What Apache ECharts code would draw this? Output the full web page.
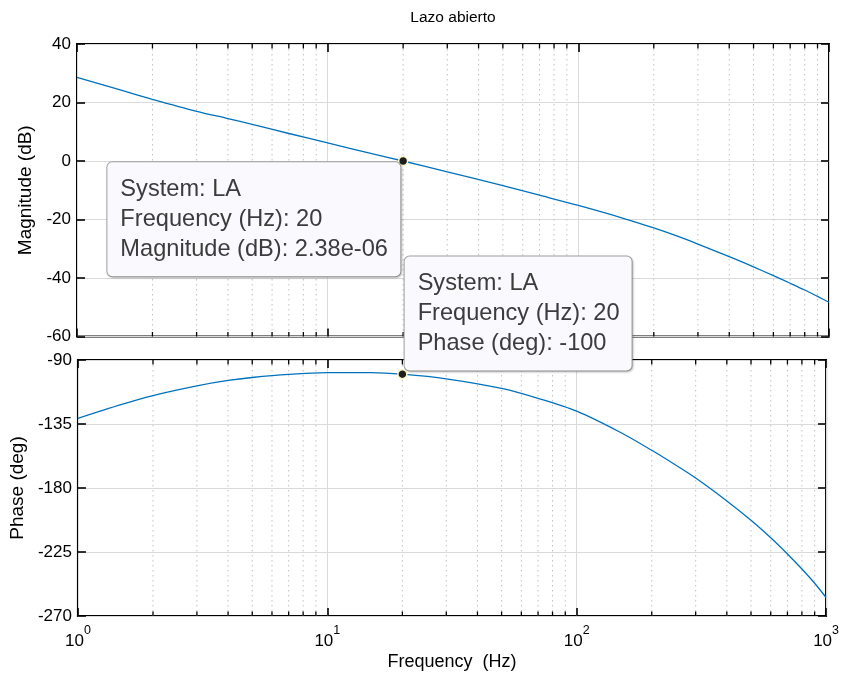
<!DOCTYPE html>
<html>
<head>
<meta charset="utf-8">
<script src="https://cdn.jsdelivr.net/npm/echarts@6/dist/echarts.min.js"></script>
<style>
  html, body { margin: 0; padding: 0; background: #fff; }
  #chart { width: 842px; height: 677px; }
</style>
</head>
<body>
<div id="chart"></div>
<script>
// Open-loop Bode response of system "LA"
const freqHz = [1, 1.5, 2, 3, 4, 5, 7, 10, 15, 20, 30, 50, 70, 100, 150, 200, 250, 300, 400, 500, 600, 700, 800, 900, 1000];
const magnitudeDb = [28.6, 24.2, 21.1, 17.0, 14.5, 12.5, 9.4, 6.2, 2.5, 0, -3.7, -8.45, -11.7, -15.2, -19.5, -22.9, -25.8, -28.4, -32.7, -36.2, -39.2, -41.8, -44.1, -46.3, -48.3];
const phaseDeg = [-131, -121.2, -115, -108.2, -104.4, -102.3, -100.1, -98.9, -98.9, -100, -103.2, -110, -117, -126, -141, -153.5, -164, -173, -189.1, -202.7, -215.0, -226.4, -237.0, -247.0, -257];

// Minor decade ticks (2..9 per decade)
const minorFreqs = [2, 3, 4, 5, 6, 7, 8, 9, 20, 30, 40, 50, 60, 70, 80, 90, 200, 300, 400, 500, 600, 700, 800, 900];

// Axis ranges
const magTicks = { min: -60, max: 40, interval: 20 };
const phaseTicks = { min: -270, max: -90, interval: 45 };

// Data tips
const tipSystem = 'LA';
const tipFreq = 20;
const tipMag = 2.38e-06;
const tipPhase = -100;

const FONT = '"Liberation Sans", Arial, Helvetica, sans-serif';
const BLUE = '#0072BD';

function fmtExp(v) {
  // exponent written with two digits, e.g. 2.38e-06
  const s = v.toExponential(2);
  return s.replace(/e([+-])(\d)$/, 'e$10$2');
}

function minorRenderer(yMin, yMax) {
  return function (params, api) {
    const f = api.value(0);
    const top = api.coord([f, yMax]);
    const bot = api.coord([f, yMin]);
    return {
      type: 'group',
      children: [
        { type: 'line', shape: { x1: top[0], y1: top[1], x2: bot[0], y2: bot[1] },
          style: { stroke: '#c2c2c2', lineWidth: 1, lineDash: [1.5, 3.5] } },
        { type: 'line', shape: { x1: top[0], y1: top[1], x2: top[0], y2: top[1] + 4.5 },
          style: { stroke: '#000', lineWidth: 1.3 } },
        { type: 'line', shape: { x1: bot[0], y1: bot[1], x2: bot[0], y2: bot[1] - 4.5 },
          style: { stroke: '#000', lineWidth: 1.3 } }
      ]
    };
  };
}

function xAxisDef(gridIndex, position, showLabels) {
  return {
    type: 'log', logBase: 10, min: 1, max: 1000, gridIndex: gridIndex, position: position,
    axisLine: { show: false, onZero: false },
    axisTick: { show: true, inside: true, length: 8, lineStyle: { color: '#000', width: 1.6 } },
    splitLine: { show: position === 'bottom', lineStyle: { color: '#dadada', width: 1 } },
    axisLabel: showLabels ? {
      show: true, margin: 8, fontFamily: FONT,
      formatter: function (v) {
        const e = Math.round(Math.log10(v));
        return '{b|10}{s|' + e + '}';
      },
      rich: {
        b: { fontSize: 17, color: '#000', fontFamily: FONT, lineHeight: 26, verticalAlign: 'bottom' },
        s: { fontSize: 12.5, color: '#000', fontFamily: FONT, lineHeight: 14, verticalAlign: 'top' }
      }
    } : { show: false },
    name: showLabels ? 'Frequency  (Hz)' : '',
    nameLocation: 'middle', nameGap: 37,
    nameTextStyle: { fontSize: 18, color: '#000', fontFamily: FONT }
  };
}

function yAxisDef(gridIndex, position, range, name, nameGap) {
  const main = position === 'left';
  return {
    type: 'value', gridIndex: gridIndex, position: position,
    min: range.min, max: range.max, interval: range.interval,
    axisLine: { show: false, onZero: false },
    axisTick: { show: true, inside: true, length: 8, lineStyle: { color: '#000', width: 1.6 } },
    splitLine: { show: main, lineStyle: { color: '#dadada', width: 1 } },
    axisLabel: main ? { show: true, margin: 6, fontSize: 17, color: '#000', fontFamily: FONT } : { show: false },
    name: main ? name : '',
    nameLocation: 'middle', nameGap: nameGap, nameRotate: 90,
    nameTextStyle: { fontSize: 19, color: '#000', fontFamily: FONT }
  };
}

const tipLabelStyle = {
  show: true,
  fontSize: 23.6, lineHeight: 30, color: '#3c3c3c', fontFamily: FONT,
  backgroundColor: '#f9f9fe', borderColor: '#a3a3a3', borderWidth: 1, borderRadius: 5,
  shadowColor: 'rgba(0,0,0,0.18)', shadowBlur: 2, shadowOffsetX: 1, shadowOffsetY: 1,
  align: 'left', overflow: 'none'
};

const chart = echarts.init(document.getElementById('chart'), null, { renderer: 'canvas' });

chart.setOption({
  backgroundColor: '#fff',
  animation: false,
  graphic: [{
    type: 'text', x: 453, y: 18,
    style: { text: 'Lazo abierto', fontSize: 15.5, fill: '#000', font: '15.5px ' + FONT,
             textAlign: 'center', textVerticalAlign: 'middle' }
  }],
  grid: [
    { left: 77, top: 44, width: 752, height: 292.5, show: true, borderColor: '#000', borderWidth: 2, backgroundColor: '#fff' },
    { left: 77, top: 360, width: 752, height: 256, show: true, borderColor: '#000', borderWidth: 2, backgroundColor: '#fff' }
  ],
  xAxis: [
    xAxisDef(0, 'bottom', false),
    xAxisDef(0, 'top', false),
    xAxisDef(1, 'bottom', true),
    xAxisDef(1, 'top', false)
  ],
  yAxis: [
    yAxisDef(0, 'left', magTicks, 'Magnitude (dB)', 33),
    yAxisDef(0, 'right', magTicks, '', 0),
    yAxisDef(1, 'left', phaseTicks, 'Phase (deg)', 40),
    yAxisDef(1, 'right', phaseTicks, '', 0)
  ],
  series: [
    {
      type: 'custom', xAxisIndex: 0, yAxisIndex: 0, z: 1, silent: true,
      renderItem: minorRenderer(magTicks.min, magTicks.max),
      data: minorFreqs.map(f => [f, magTicks.min]), encode: { x: 0, y: 1 }
    },
    {
      type: 'custom', xAxisIndex: 2, yAxisIndex: 2, z: 1, silent: true,
      renderItem: minorRenderer(phaseTicks.min, phaseTicks.max),
      data: minorFreqs.map(f => [f, phaseTicks.min]), encode: { x: 0, y: 1 }
    },
    {
      type: 'line', xAxisIndex: 0, yAxisIndex: 0, z: 3,
      data: freqHz.map((f, i) => [f, magnitudeDb[i]]),
      smooth: 0.3, showSymbol: false, lineStyle: { color: BLUE, width: 1.3 }
    },
    {
      type: 'line', xAxisIndex: 2, yAxisIndex: 2, z: 3,
      data: freqHz.map((f, i) => [f, phaseDeg[i]]),
      smooth: 0.3, showSymbol: false, lineStyle: { color: BLUE, width: 1.3 }
    },
    {
      type: 'scatter', xAxisIndex: 0, yAxisIndex: 0, z: 5,
      symbolSize: 9,
      itemStyle: { color: '#1e1e1e', borderColor: '#fbf6c8', borderWidth: 1.5, opacity: 1 },
      data: [[tipFreq, tipMag]],
      label: Object.assign({}, tipLabelStyle, {
        width: 268, padding: [12, 12, 12, 13],
        position: [-290.5, 6.5], verticalAlign: 'top',
        formatter: function (p) {
          return 'System: ' + tipSystem + '\nFrequency (Hz): ' + p.value[0] + '\nMagnitude (dB): ' + fmtExp(p.value[1]);
        }
      })
    },
    {
      type: 'scatter', xAxisIndex: 2, yAxisIndex: 2, z: 5,
      symbolSize: 9,
      itemStyle: { color: '#1e1e1e', borderColor: '#fbf6c8', borderWidth: 1.5, opacity: 1 },
      data: [[tipFreq, tipPhase]],
      label: Object.assign({}, tipLabelStyle, {
        width: 201, padding: [12, 13, 12, 13],
        position: [7.5, 1.5], verticalAlign: 'bottom',
        formatter: function (p) {
          return 'System: ' + tipSystem + '\nFrequency (Hz): ' + p.value[0] + '\nPhase (deg): ' + p.value[1];
        }
      })
    }
  ]
});
</script>
</body>
</html>
